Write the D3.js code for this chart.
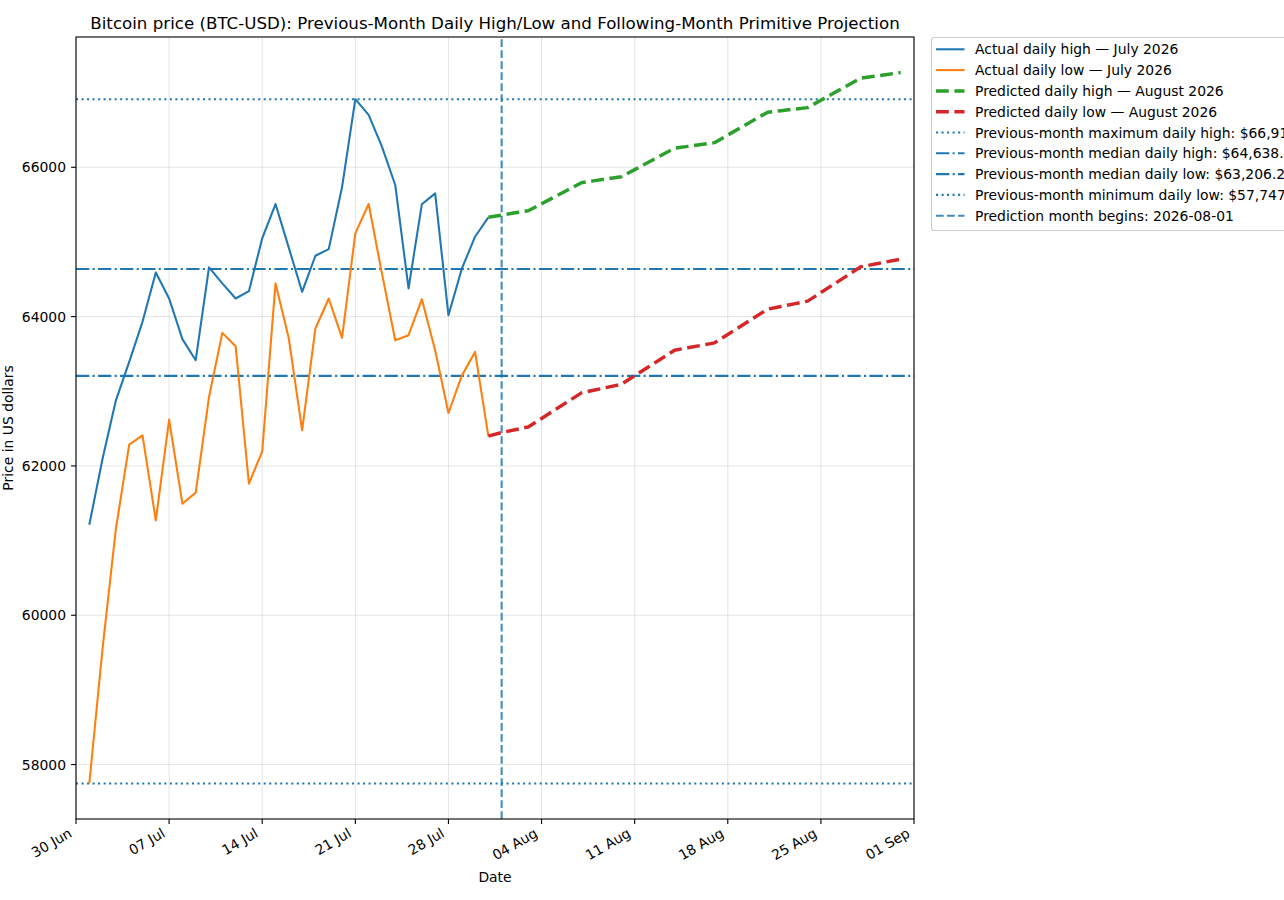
<!DOCTYPE html>
<html>
<head>
<meta charset="utf-8">
<style>
	body { margin: 0; background: #fff; }
	svg { display: block; font-family: "DejaVu Sans", sans-serif; }
</style>
<script src="https://d3js.org/d3.v7.min.js"></script>
</head>
<body>
<svg width="1284" height="900"></svg>
<script>

	// July 2026, days 1..31
	var julyHigh = [61213, 62100, 62879, 63393, 63930, 64592, 64243, 63698, 63416, 64659,
		64445, 64243, 64341, 65048, 65508, 64920, 64332, 64815, 64904, 65732,
		66912.4, 66701, 66276, 65763, 64377, 65504, 65651, 64019, 64638.4, 65070, 65330];
	var julyLow = [57747.1, 59560, 61159, 62285, 62410, 61270, 62621, 61494, 61642, 62924,
		63782, 63604, 61762, 62196, 64445, 63707, 62477, 63841, 64243, 63715,
		65115, 65508, 64579, 63684, 63751, 64234, 63550, 62709, 63206.2, 63527, 62400];

	// August 2026 projection, days 1..31
	var augHigh = [65360, 65390, 65418, 65512, 65606, 65700, 65794, 65821, 65848, 65874,
		65969, 66064, 66160, 66255, 66280, 66305, 66330, 66432, 66534, 66636,
		66738, 66758, 66779, 66799, 66898, 66997, 67095, 67194, 67219, 67244, 67269];
	var augLow = [62447, 62485, 62522, 62636, 62750, 62864, 62978, 63017, 63055, 63094,
		63208, 63322, 63436, 63550, 63583, 63615, 63648, 63761, 63874, 63987,
		64100, 64136, 64171, 64207, 64322, 64437, 64552, 64667, 64701, 64736, 64770];

	var yTicks = [58000, 60000, 62000, 64000, 66000];
	var xTickDays = ["2026-06-30", "2026-07-07", "2026-07-14", "2026-07-21", "2026-07-28",
		"2026-08-04", "2026-08-11", "2026-08-18", "2026-08-25", "2026-09-01"];
	var xRange = ["2026-06-30", "2026-09-01"];
	var predStart = "2026-08-01";

	var parse = d3.utcParse("%Y-%m-%d");
	function julyDate(i) { return new Date(Date.UTC(2026, 6, i + 1)); }
	function augDate(i) { return new Date(Date.UTC(2026, 7, i + 1)); }

	var highPts = julyHigh.map(function(v, i) { return {date: julyDate(i), value: v}; });
	var lowPts = julyLow.map(function(v, i) { return {date: julyDate(i), value: v}; });
	// projection lines start from the last actual day
	var predHighPts = [highPts[30]].concat(augHigh.map(function(v, i) { return {date: augDate(i), value: v}; }));
	var predLowPts = [lowPts[30]].concat(augLow.map(function(v, i) { return {date: augDate(i), value: v}; }));

	var maxHigh = d3.max(julyHigh), medHigh = d3.median(julyHigh),
		medLow = d3.median(julyLow), minLow = d3.min(julyLow);
	var money = d3.format(",.2f");

	var svg = d3.select("svg");
	var margin = {left: 76, top: 37, right: 370, bottom: 81};
	var W = 1284, H = 900;

	var x = d3.scaleUtc()
		.domain(xRange.map(parse))
		.range([margin.left, 914]);

	var all = julyHigh.concat(julyLow, augHigh, augLow);
	var lo = d3.min(all), hi = d3.max(all), pad = (hi - lo) * 0.05;
	var y = d3.scaleLinear()
		.domain([lo - pad, hi + pad])
		.range([819, margin.top]);

	var x0 = x.range()[0], x1 = x.range()[1], y0 = y.range()[0], y1 = y.range()[1];

	svg.append("clipPath").attr("id", "plot")
		.append("rect").attr("x", x0).attr("y", y1).attr("width", x1 - x0).attr("height", y0 - y1);

	// grid
	var grid = svg.append("g").attr("stroke", "#b0b0b0").attr("stroke-opacity", 0.3).attr("stroke-width", 1.1);
	grid.selectAll(".gx").data(xTickDays.map(parse)).enter().append("line")
		.attr("x1", function(d) { return x(d); }).attr("x2", function(d) { return x(d); })
		.attr("y1", y0).attr("y2", y1);
	grid.selectAll(".gy").data(yTicks).enter().append("line")
		.attr("x1", x0).attr("x2", x1)
		.attr("y1", function(d) { return y(d); }).attr("y2", function(d) { return y(d); });

	var plot = svg.append("g").attr("clip-path", "url(#plot)");

	var line = d3.line()
		.x(function(d) { return x(d.date); })
		.y(function(d) { return y(d.value); });

	var series = [
		{pts: highPts, color: "#1f77b4", w: 2.08, dash: null},
		{pts: lowPts, color: "#ff7f0e", w: 2.08, dash: null},
		{pts: predHighPts, color: "#2ca02c", w: 3.47, dash: "12.85,5.56"},
		{pts: predLowPts, color: "#d62728", w: 3.47, dash: "12.85,5.56"}
	];

	var refLines = [
		{value: maxHigh, dash: "2.08,3.44"},
		{value: medHigh, dash: "13.3,3.33,2.08,3.33"},
		{value: medLow, dash: "13.3,3.33,2.08,3.33"},
		{value: minLow, dash: "2.08,3.44"}
	];

	plot.selectAll(".ref").data(refLines).enter().append("line")
		.attr("x1", x0).attr("x2", x1)
		.attr("y1", function(d) { return y(d.value); })
		.attr("y2", function(d) { return y(d.value); })
		.attr("stroke", "#1f77b4").attr("stroke-width", 2.08)
		.attr("stroke-dasharray", function(d) { return d.dash; });

	plot.append("line")
		.attr("x1", x(parse(predStart))).attr("x2", x(parse(predStart)))
		.attr("y1", y0).attr("y2", y1)
		.attr("stroke", "#1f77b4").attr("stroke-opacity", 0.85).attr("stroke-width", 2.08)
		.attr("stroke-dasharray", "7.7,3.33");

	plot.selectAll(".series").data(series).enter().append("path")
		.attr("d", function(d) { return line(d.pts); })
		.attr("fill", "none")
		.attr("stroke", function(d) { return d.color; })
		.attr("stroke-width", function(d) { return d.w; })
		.attr("stroke-linejoin", "round")
		.attr("stroke-dasharray", function(d) { return d.dash; });

	// axes frame
	svg.append("rect")
		.attr("x", x0).attr("y", y1).attr("width", x1 - x0).attr("height", y0 - y1)
		.attr("fill", "none").attr("stroke", "#000").attr("stroke-width", 1.1);

	var xAxis = svg.append("g").attr("font-size", 13.9).attr("fill", "#000");
	xAxis.selectAll("line").data(xTickDays.map(parse)).enter().append("line")
		.attr("x1", function(d) { return x(d); }).attr("x2", function(d) { return x(d); })
		.attr("y1", y0).attr("y2", y0 + 4.9)
		.attr("stroke", "#000").attr("stroke-width", 1.1);
	xAxis.selectAll("text").data(xTickDays.map(parse)).enter().append("text")
		.attr("text-anchor", "end")
		.attr("transform", function(d) { return "translate(" + (x(d) - 3) + "," + (y0 + 17) + ") rotate(-30)"; })
		.text(d3.utcFormat("%d %b"));

	var yAxis = svg.append("g").attr("font-size", 13.9);
	yAxis.selectAll("line").data(yTicks).enter().append("line")
		.attr("x1", x0 - 4.9).attr("x2", x0)
		.attr("y1", function(d) { return y(d); }).attr("y2", function(d) { return y(d); })
		.attr("stroke", "#000").attr("stroke-width", 1.1);
	yAxis.selectAll("text").data(yTicks).enter().append("text")
		.attr("text-anchor", "end")
		.attr("x", x0 - 10)
		.attr("y", function(d) { return y(d); })
		.attr("dy", "0.36em")
		.text(function(d) { return d; });

	svg.append("text")
		.attr("x", (x0 + x1) / 2).attr("y", 882)
		.attr("text-anchor", "middle").attr("font-size", 13.9)
		.text("Date");

	svg.append("text")
		.attr("transform", "translate(13," + ((y0 + y1) / 2) + ") rotate(-90)")
		.attr("text-anchor", "middle").attr("font-size", 13.9)
		.text("Price in US dollars");

	svg.append("text")
		.attr("x", (x0 + x1) / 2).attr("y", 29)
		.attr("text-anchor", "middle").attr("font-size", 16.67)
		.text("Bitcoin price (BTC-USD): Previous-Month Daily High/Low and Following-Month Primitive Projection");

	// legend
	var legendItems = [
		{label: "Actual daily high \u2014 July 2026", color: "#1f77b4", w: 2.08, dash: null, op: 1},
		{label: "Actual daily low \u2014 July 2026", color: "#ff7f0e", w: 2.08, dash: null, op: 1},
		{label: "Predicted daily high \u2014 August 2026", color: "#2ca02c", w: 3.47, dash: "12.85,5.56", op: 1},
		{label: "Predicted daily low \u2014 August 2026", color: "#d62728", w: 3.47, dash: "12.85,5.56", op: 1},
		{label: "Previous-month maximum daily high: $" + money(maxHigh), color: "#1f77b4", w: 2.08, dash: "2.08,3.44", op: 1},
		{label: "Previous-month median daily high: $" + money(medHigh), color: "#1f77b4", w: 2.08, dash: "13.3,3.33,2.08,3.33", op: 1},
		{label: "Previous-month median daily low: $" + money(medLow), color: "#1f77b4", w: 2.08, dash: "13.3,3.33,2.08,3.33", op: 1},
		{label: "Previous-month minimum daily low: $" + money(minLow), color: "#1f77b4", w: 2.08, dash: "2.08,3.44", op: 1},
		{label: "Prediction month begins: " + predStart, color: "#1f77b4", w: 2.08, dash: "7.7,3.33", op: 0.85}
	];

	var legend = svg.append("g").attr("font-size", 13.9);
	legend.append("rect")
		.attr("x", 931.5).attr("y", 37.5).attr("width", 420).attr("height", 193)
		.attr("rx", 2.8)
		.attr("fill", "#fff").attr("fill-opacity", 0.8)
		.attr("stroke", "#cccccc").attr("stroke-width", 1.1);

	var rows = legend.selectAll(".row").data(legendItems).enter().append("g")
		.attr("transform", function(d, i) { return "translate(0," + (49.3 + i * 20.8) + ")"; });
	rows.append("line")
		.attr("x1", 936).attr("x2", 964.5)
		.attr("stroke", function(d) { return d.color; })
		.attr("stroke-opacity", function(d) { return d.op; })
		.attr("stroke-width", function(d) { return d.w; })
		.attr("stroke-dasharray", function(d) { return d.dash; });
	rows.append("text")
		.attr("x", 975).attr("dy", "0.36em")
		.text(function(d) { return d.label; });

</script>
</body>
</html>
